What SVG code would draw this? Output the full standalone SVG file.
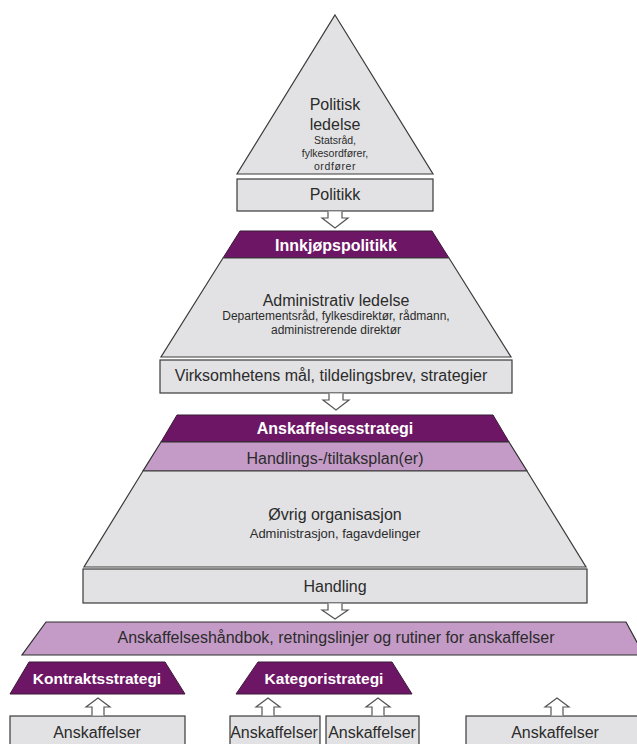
<svg xmlns="http://www.w3.org/2000/svg" width="637" height="744" viewBox="0 0 637 744">
<style>
.g{fill:#e2e2e4;stroke:#3a3a3a;stroke-width:1.2}
.p{fill:#6d1665;stroke:#3a1a36;stroke-width:1}
.l{fill:#c49bc7;stroke:#2e2e2e;stroke-width:1.2}
.a{fill:#fff;stroke:#555;stroke-width:1.2}
text{font-family:"Liberation Sans",Arial,sans-serif;fill:#2b2b2b;text-anchor:middle}
.t16{font-size:16px}
.t15{font-size:16px}
.s{font-size:10.5px}
.s12{font-size:12px}
.s13{font-size:13px}
.w{fill:#fff;font-weight:bold;font-size:16px}
.wk{fill:#fff;font-weight:bold;font-size:15.5px}
</style>
<rect width="637" height="744" fill="#fff"/>
<g id="politisk-ledelse">
<polygon class="g" points="335,15 433,174 237,174"/>
<text class="t15" x="335" y="110">Politisk</text>
<text class="t15" x="335" y="130">ledelse</text>
<text class="s" x="335" y="144">Statsråd,</text>
<text class="s" x="335" y="157">fylkesordfører,</text>
<text class="s" x="335" y="170" letter-spacing="0.6">ordfører</text>
</g>
<g id="politikk">
<rect class="g" x="237" y="179" width="196" height="32"/>
<text class="t15" x="335" y="200">Politikk</text>
</g>
<g id="innkjopspolitikk">
<polygon class="p" points="240,231 432,231 449,258 223,258"/>
<text class="w" x="336" y="251">Innkjøpspolitikk</text>
</g>
<g id="administrativ-ledelse">
<polygon class="g" points="223,258 449,258 511,357 161,357"/>
<text class="t15" x="336" y="306">Administrativ ledelse</text>
<text class="s12" x="336" y="320">Departementsråd, fylkesdirektør, rådmann,</text>
<text class="s12" x="336" y="334">administrerende direktør</text>
</g>
<g id="virksomhetens-mal">
<rect class="g" x="160" y="360" width="352" height="33"/>
<text class="t16" x="331" y="381">Virksomhetens mål, tildelingsbrev, strategier</text>
</g>
<g id="anskaffelsesstrategi">
<polygon class="p" points="177,415 493,415 509,442 161,442"/>
<text class="w" x="335" y="434">Anskaffelsesstrategi</text>
</g>
<g id="handlingsplan">
<polygon class="l" points="161,442 509,442 527,471 143,471"/>
<text class="t16" x="335" y="464">Handlings-/tiltaksplan(er)</text>
</g>
<g id="ovrig-organisasjon">
<polygon class="g" points="143,471 527,471 586,567 84,567"/>
<text class="t16" x="335" y="520">Øvrig organisasjon</text>
<text class="s13" x="335" y="538">Administrasjon, fagavdelinger</text>
</g>
<g id="handling">
<rect class="g" x="83" y="569" width="504" height="34"/>
<text class="t16" x="335" y="592">Handling</text>
</g>
<g id="anskaffelseshandbok">
<polygon class="l" points="46,622 626,622 644,655 22,655"/>
<text class="t16" x="336" y="643">Anskaffelseshåndbok, retningslinjer og rutiner for anskaffelser</text>
</g>
<g id="kontraktsstrategi">
<polygon class="p" points="29,662 165,662 185,694 10,694"/>
<text class="wk" x="97" y="684">Kontraktsstrategi</text>
</g>
<g id="kategoristrategi">
<polygon class="p" points="258,662 392,662 412,694 236,694"/>
<text class="wk" x="324" y="684">Kategoristrategi</text>
</g>
<g id="anskaffelser-1">
<rect class="g" x="10" y="716" width="175" height="40"/>
<text class="t16" x="97" y="738">Anskaffelser</text>
</g>
<g id="anskaffelser-2">
<rect class="g" x="230" y="716" width="90" height="40"/>
<text class="t16" x="274" y="738">Anskaffelser</text>
</g>
<g id="anskaffelser-3">
<rect class="g" x="326" y="716" width="93" height="40"/>
<text class="t16" x="372" y="738">Anskaffelser</text>
</g>
<g id="anskaffelser-4">
<rect class="g" x="466" y="716" width="180" height="40"/>
<text class="t16" x="555" y="738">Anskaffelser</text>
</g>
<g id="connectors">
<polyline class="a" points="328,211.5 328,218 322,218 335,228 348,218 342,218 342,211.5"/>
<polyline class="a" points="329,393.5 329,400 323,400 336,410 349,400 343,400 343,393.5"/>
<polyline class="a" points="328,603.5 328,610 322,610 335,619 348,610 342,610 342,603.5"/>
<polyline class="a" points="92,715.5 92,707 86,707 98,698 110,707 104,707 104,715.5"/>
<polyline class="a" points="262,715.5 262,707 256,707 268,698 280,707 274,707 274,715.5"/>
<polyline class="a" points="372,715.5 372,707 366,707 378,698 390,707 384,707 384,715.5"/>
<polyline class="a" points="551,715.5 551,707 545,707 557,698 569,707 563,707 563,715.5"/>
</g>
</svg>
